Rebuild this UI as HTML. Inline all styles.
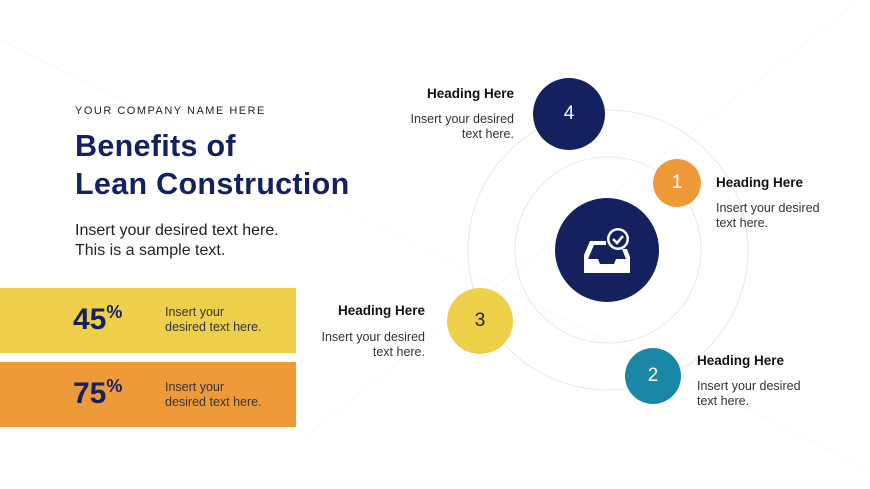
<!DOCTYPE html>
<html><head><style>
body{margin:0;width:870px;height:489px;background:#fff;position:relative;overflow:hidden;font-family:"Liberation Sans",sans-serif;color:#222}
.a{position:absolute}
.h{font-weight:bold;font-size:13.5px;color:#111}
.t{font-size:12.5px;color:#333;line-height:15px}
.c{position:absolute;border-radius:50%;color:#fff;display:flex;align-items:center;justify-content:center;font-size:19px}
</style></head><body>
<svg class="a" style="left:0;top:0" width="870" height="489">
<line x1="0" y1="40" x2="870" y2="470" stroke="#f8f8f8"/>
<line x1="300" y1="440" x2="860" y2="0" stroke="#f8f8f8"/>
<circle cx="608" cy="250" r="140" fill="none" stroke="#e8e8e8"/>
<circle cx="608" cy="250" r="93" fill="none" stroke="#e8e8e8"/>
</svg>
<div class="a" style="left:75px;top:105px;font-size:11px;letter-spacing:1.5px;color:#222">YOUR COMPANY NAME HERE</div>
<div class="a" style="left:75px;top:127px;font-size:30.5px;font-weight:bold;color:#14215e;line-height:38px;letter-spacing:0.3px">Benefits of<br>Lean Construction</div>
<div class="a" style="left:75px;top:221px;font-size:16px;line-height:20px;color:#222">Insert your desired text here.<br>This is a sample text.</div>
<div class="a" style="left:0;top:288px;width:296px;height:65px;background:#eed04a"></div>
<div class="a" style="left:0;top:362px;width:296px;height:65px;background:#ee9a38"></div>
<div class="a" style="left:73px;top:302px;font-size:30px;font-weight:bold;color:#14215e">45<sup style="font-size:18px">%</sup></div>
<div class="a" style="left:73px;top:376px;font-size:30px;font-weight:bold;color:#14215e">75<sup style="font-size:18px">%</sup></div>
<div class="a t" style="left:165px;top:305px">Insert your<br>desired text here.</div>
<div class="a t" style="left:165px;top:380px">Insert your<br>desired text here.</div>
<div class="c" style="left:555px;top:198px;width:104px;height:104px;background:#14215e">
<svg width="50" height="46" viewBox="0 0 50 46"><path d="M8 14h16v4H12l-6 14h10l2 5h14l2-5h10l-4-10h5l3 8v18H2V28z" fill="#fff"/><circle cx="36" cy="12" r="11" fill="#fff"/><circle cx="36" cy="12" r="8.5" fill="#14215e"/><path d="M31 12l4 4 6-7" stroke="#fff" stroke-width="2.5" fill="none"/></svg></div>
<div class="c" style="left:533px;top:78px;width:72px;height:72px;background:#14215e">4</div>
<div class="c" style="left:653px;top:159px;width:48px;height:48px;background:#ee9a38">1</div>
<div class="c" style="left:447px;top:288px;width:66px;height:66px;background:#eed04a;color:#222">3</div>
<div class="c" style="left:625px;top:348px;width:56px;height:56px;background:#1b87a6">2</div>
<div class="a h" style="right:356px;top:86px;text-align:right">Heading Here</div>
<div class="a t" style="right:356px;top:112px;text-align:right">Insert your desired<br>text here.</div>
<div class="a h" style="left:716px;top:175px">Heading Here</div>
<div class="a t" style="left:716px;top:201px">Insert your desired<br>text here.</div>
<div class="a h" style="right:445px;top:303px;text-align:right">Heading Here</div>
<div class="a t" style="right:445px;top:330px;text-align:right">Insert your desired<br>text here.</div>
<div class="a h" style="left:697px;top:353px">Heading Here</div>
<div class="a t" style="left:697px;top:379px">Insert your desired<br>text here.</div>
</body></html>
